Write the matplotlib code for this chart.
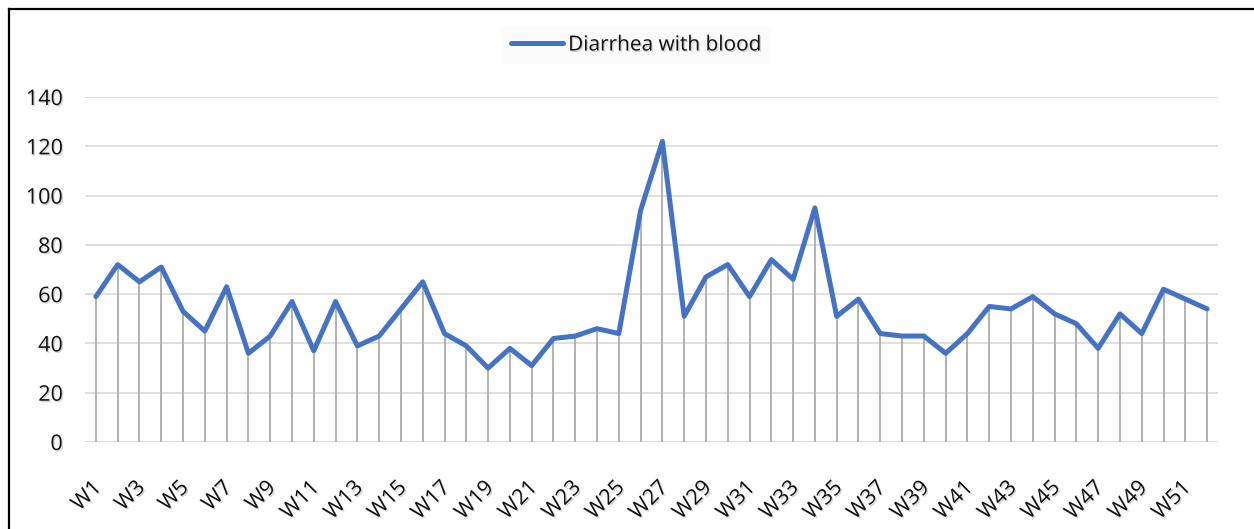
import matplotlib
matplotlib.use("Agg")
import matplotlib.pyplot as plt
import matplotlib.patheffects as pe
import matplotlib.transforms as mtransforms
from matplotlib.lines import Line2D

weeks = [f"W{i}" for i in range(1, 53)]
diarrhea_with_blood = [59, 72, 65, 71, 53, 45, 63, 36, 43, 57,
                       37, 57, 39, 43, 54, 65, 44, 39, 30, 38,
                       31, 42, 43, 46, 44, 94, 122, 51, 67, 72,
                       59, 74, 66, 95, 51, 58, 44, 43, 43, 36,
                       44, 55, 54, 59, 52, 48, 38, 52, 44, 62,
                       58, 54]
y_ticks = [0, 20, 40, 60, 80, 100, 120, 140]

plt.rcParams['font.family'] = ['Open Sans', 'DejaVu Sans']

W, H = 1254, 529
fig = plt.figure(figsize=(W / 100, H / 100), dpi=100)
ax = fig.add_axes([85 / W, 1 - 442 / H, (1218 - 85) / W, (442 - 97) / H])

x = list(range(len(weeks)))
ax.vlines(x, 0, diarrhea_with_blood, colors='#A5A5A5', linewidth=1.2, zorder=2)
ax.plot(x, diarrhea_with_blood, color='#4472C4', linewidth=3.6,
        solid_joinstyle='round', solid_capstyle='round', zorder=3,
        label='Diarrhea with blood')

ax.set_xlim(-0.5, len(weeks) - 0.5)
ax.set_ylim(0, 140)
ax.set_yticks(y_ticks)
ax.yaxis.grid(True, color='#D9D9D9', linewidth=1.2, zorder=0)
ax.set_axisbelow(True)
for s in ax.spines.values():
    s.set_visible(False)

shadow = [pe.withSimplePatchShadow(offset=(1, -1), shadow_rgbFace='#888888', alpha=0.35)]

odd_idx = x[::2]
ax.set_xticks(odd_idx)
ax.set_xticklabels([weeks[i] for i in odd_idx], rotation=45, ha='right',
                   va='top', rotation_mode='anchor', fontsize=15.5, color='#111111')
ax.tick_params(axis='x', length=0, pad=24)
ax.tick_params(axis='y', length=0, pad=16, labelsize=15.5, labelcolor='#111111')
offset = mtransforms.ScaledTranslation(-5 / 100, -2 / 100, fig.dpi_scale_trans)
for t in ax.get_xticklabels():
    t.set_transform(t.get_transform() + offset)
for t in ax.get_xticklabels() + ax.get_yticklabels():
    t.set_path_effects(shadow)

leg = fig.legend(loc='center', bbox_to_anchor=(636 / W, 1 - 45 / H), frameon=True,
                 fontsize=15, handlelength=2.5, handletextpad=0.25)
leg.get_frame().set_facecolor('#FBFBFB')
leg.get_frame().set_edgecolor('none')
for t in leg.get_texts():
    t.set_color('#111111')
    t.set_path_effects(shadow)

# outer frame (left and top edges)
fig.add_artist(Line2D([8.5 / W, 8.5 / W], [0, 1 - 8.5 / H], transform=fig.transFigure,
                      color='black', linewidth=1.6))
fig.add_artist(Line2D([8.5 / W, 1], [1 - 8.5 / H, 1 - 8.5 / H], transform=fig.transFigure,
                      color='black', linewidth=1.6))

fig.savefig('out.png', dpi=100)
